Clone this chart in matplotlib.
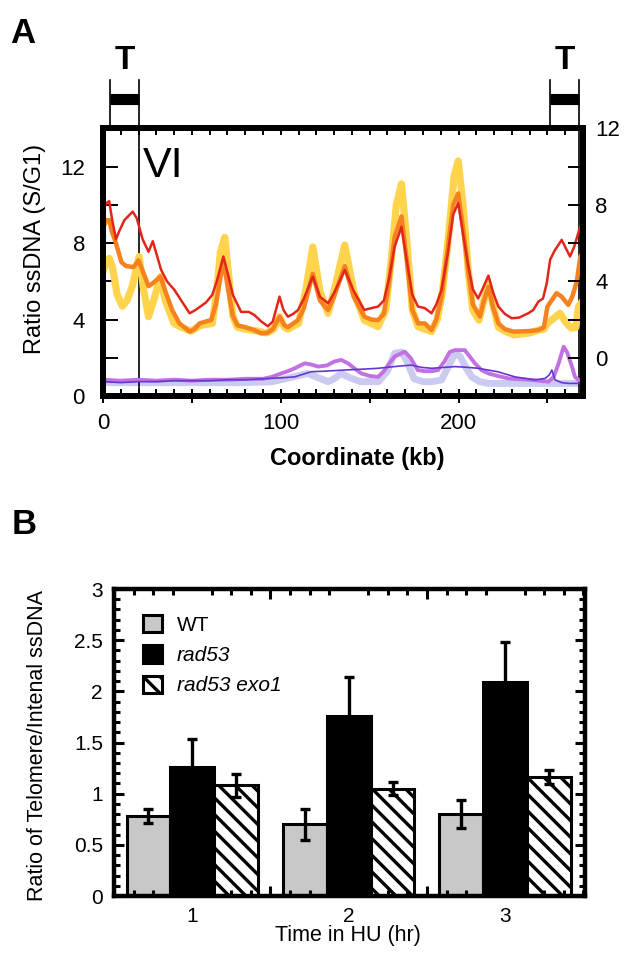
import numpy as np
import matplotlib
matplotlib.use('Agg')
import matplotlib.pyplot as plt
import matplotlib.transforms as mtransforms
from matplotlib.ticker import MultipleLocator, FixedLocator

plt.rcParams['font.family'] = ['Liberation Sans', 'DejaVu Sans']
plt.rcParams['hatch.linewidth'] = 2.4

# ---------------- panel A data (chromosome VI, kb vs ratio) ----------------
red_x = [0, 2, 3.5, 5, 7.3, 9, 12, 16.7, 19, 22.3, 25.6, 28, 32.7, 36, 40.2, 44, 48.7, 52, 55, 58,
         61.5, 64, 67.7, 70.5, 73, 77.7, 82, 85, 89, 92.8, 95.5, 99.3, 101.5, 104, 107, 109.7, 113,
         118, 122, 126.6, 130, 136, 141, 147, 151, 154.7, 158, 161, 164, 167.9, 171, 174, 177.2,
         181, 184.8, 187.5, 190.4, 194, 197, 199.8, 202.5, 205.5, 208, 211, 213.5, 216.8, 219.5,
         222.4, 226, 229.9, 234, 239.2, 242, 244.9, 247.5, 249.6, 251.5, 254, 258, 260, 262.7, 265,
         268.4, 270]
red_y = [9.7, 10.1, 10.2, 9.3, 8.2, 8.6, 9.2, 9.65, 9.3, 8.2, 7.55, 8.1, 6.6, 6.0, 5.55, 5.0, 4.33,
         4.5, 4.7, 4.9, 5.3, 6.0, 7.3, 6.3, 5.3, 4.4, 4.4, 4.25, 3.9, 3.65, 3.9, 5.2, 4.5, 4.15, 4.3,
         4.5, 5.1, 6.25, 5.2, 4.85, 5.4, 6.6, 5.5, 4.5, 4.6, 4.68, 5.0, 6.2, 7.8, 8.85, 7.0, 5.3, 4.68,
         4.6, 4.33, 4.8, 5.55, 7.5, 9.5, 10.1, 8.5, 6.8, 5.6, 5.1, 5.6, 6.3, 5.4, 4.68, 4.3, 4.07,
         4.1, 4.33, 4.5, 4.94, 5.1, 5.9, 7.13, 7.6, 8.17, 7.8, 7.3, 7.8, 8.86, 9.1]

orange_x = [0, 2, 3.5, 5, 7.3, 10.4, 13, 17.2, 20, 22.5, 25.6, 28, 32.3, 35, 38.9, 43, 48.7, 51.5,
            54.3, 60.9, 63.5, 67.7, 70.5, 73, 75.6, 80, 85, 89, 92.4, 95.5, 99.3, 102, 104, 109.7,
            113, 118, 122, 126.6, 130, 136, 141, 147, 151, 154.7, 158, 161, 164, 167.9, 171, 174,
            177.2, 181, 184.8, 187.5, 190.4, 194, 197, 199.8, 202.5, 205.5, 208, 212, 214, 216.8,
            219.5, 222.4, 226, 231, 240, 245, 248, 250, 255.1, 258, 261.7, 264, 266.5, 268.5, 270]
orange_y = [8.8, 9.2, 9.2, 8.6, 8.0, 7.0, 6.8, 6.75, 7.1, 6.5, 5.75, 5.9, 6.25, 5.5, 4.5, 3.8, 3.37,
            3.5, 3.8, 3.98, 4.8, 7.1, 5.5, 4.2, 3.7, 3.6, 3.45, 3.28, 3.3, 3.5, 4.15, 3.7, 3.6, 3.97,
            4.6, 6.4, 5.0, 4.5, 5.2, 6.8, 5.2, 4.15, 4.0, 3.97, 4.3, 6.0, 8.3, 9.4, 7.0, 4.5, 3.8,
            3.8, 3.45, 4.0, 5.2, 7.8, 10.0, 10.6, 8.8, 6.5, 4.8, 4.15, 4.9, 5.72, 4.6, 3.8, 3.5,
            3.37, 3.4, 3.45, 3.6, 4.68, 5.38, 5.2, 4.77, 5.2, 6.0, 7.3, 7.5]

yellow_x = [0, 2, 3.5, 5.3, 8, 10.9, 13.5, 16.5, 20.3, 23, 25.6, 28.5, 32.3, 35, 40, 44, 49.6, 53,
            55.3, 61.5, 64, 66, 68.5, 70.5, 73, 75.6, 80, 86.8, 92, 96, 99.3, 102, 104, 110, 114,
            118, 122, 126.6, 130, 136, 141, 147, 154.7, 159, 162, 165, 167.9, 171, 174, 177.2,
            184.8, 188, 191, 194.5, 197.5, 199.8, 202.5, 205.5, 208, 211.5, 214, 216.8, 219.5,
            222.4, 226, 231, 240, 245, 248, 250, 254, 257, 260, 263.5, 266, 267.5, 270]
yellow_y = [6.5, 7.0, 7.2, 6.75, 5.3, 4.7, 5.0, 5.75, 7.3, 5.5, 4.15, 5.0, 6.25, 5.0, 3.8, 3.6, 3.4,
            3.6, 3.7, 3.8, 5.5, 7.5, 8.3, 6.5, 4.2, 3.6, 3.5, 3.4, 3.3, 3.5, 4.15, 3.6, 3.5, 3.8,
            5.5, 7.8, 5.5, 4.33, 5.5, 7.9, 5.5, 3.97, 3.63, 4.5, 7.0, 10.0, 11.1, 8.0, 4.5, 3.63,
            3.37, 4.0, 5.5, 8.5, 11.5, 12.3, 10.0, 6.5, 4.5, 3.97, 4.9, 5.9, 4.7, 3.6, 3.4, 3.2,
            3.3, 3.45, 3.5, 3.8, 4.1, 4.33, 3.9, 3.55, 3.6, 4.68, 5.0]

orchid_x = [0, 10, 20, 30, 40, 50, 60, 70, 80, 90, 95, 100.3, 104, 107.8, 113.5, 117, 121, 126, 130,
            134, 138, 142, 145.3, 150, 154.7, 158, 161, 164, 169.7, 173, 177, 181, 185, 188.5, 192,
            195, 197.9, 203.5, 206, 209.2, 213, 216.8, 222, 228, 241, 250.6, 253.5, 256.3, 259.1,
            261, 263.8, 265.5, 267.5, 270]
orchid_y = [0.85, 0.8, 0.85, 0.8, 0.85, 0.8, 0.85, 0.85, 0.9, 0.9, 1.0, 1.18, 1.3, 1.45, 1.71, 1.65,
            1.54, 1.6, 1.8, 1.89, 1.7, 1.4, 1.18, 1.05, 1.0, 1.3, 1.7, 2.06, 2.32, 2.0, 1.36, 1.3,
            1.3, 1.36, 1.8, 2.3, 2.4, 2.4, 2.1, 1.71, 1.35, 1.18, 1.05, 0.92, 0.84, 0.75, 1.0, 1.71,
            2.58, 2.3, 1.54, 1.0, 0.84, 0.8]

lavender_x = [0, 20, 40, 60, 80, 95, 100, 107, 115, 120, 126.6, 130, 134, 139, 145, 155, 160, 164,
              168, 171, 175, 180, 184.8, 190.4, 194, 198, 201, 204, 207.4, 212, 216.8, 240, 270]
lavender_y = [0.7, 0.7, 0.7, 0.7, 0.7, 0.75, 0.85, 1.0, 1.18, 1.0, 0.75, 0.9, 1.18, 0.95, 0.75, 0.75,
              1.3, 2.23, 2.3, 1.8, 0.9, 0.75, 0.75, 0.84, 1.5, 2.23, 2.06, 1.5, 1.0, 0.75, 0.66,
              0.66, 0.66]

violet_x = [0, 10, 20, 30, 40, 50, 60, 70, 80, 90, 100, 107.8, 117, 125, 136, 145, 154.7, 165,
            173.5, 179, 185, 198, 205, 211, 222, 231.8, 243, 248.7, 251, 252.5, 254.3, 258, 262, 270]
violet_y = [0.75, 0.7, 0.75, 0.75, 0.8, 0.8, 0.8, 0.85, 0.85, 0.9, 0.95, 1.0, 1.27, 1.3, 1.36, 1.4,
            1.45, 1.55, 1.62, 1.5, 1.45, 1.54, 1.5, 1.45, 1.27, 1.0, 0.84, 0.92, 1.1, 1.36, 0.84,
            0.7, 0.66, 0.66]

# telomere regions (kb)
tel_left = (3.9, 20.5)
tel_right = (251.5, 267.5)

# ---------------- panel B data ----------------
hours = [1, 2, 3]
wt = [0.78, 0.70, 0.80]
wt_err = [0.07, 0.15, 0.14]
rad53 = [1.26, 1.76, 2.09]
rad53_err = [0.27, 0.38, 0.39]
exo1 = [1.08, 1.05, 1.16]
exo1_err = [0.11, 0.06, 0.07]

W, H = 634, 955
fig = plt.figure(figsize=(W / 100, H / 100), dpi=100)

# ======================= Panel A =======================
axA = fig.add_axes([103 / W, 1 - 396 / H, 480 / W, 267.5 / H])
axA.plot(lavender_x, lavender_y, color='#cbcbf2', lw=5.0, zorder=2)
axA.plot(orchid_x, orchid_y, color='#c271e0', lw=2.8, zorder=3)
axA.plot(violet_x, violet_y, color='#6536d6', lw=1.2, zorder=4)
axA.plot(yellow_x, yellow_y, color='#ffd44c', lw=5.2, zorder=5)
axA.plot(orange_x, orange_y, color='#f5821f', lw=3.2, zorder=6)
axA.plot(red_x, red_y, color='#e3261a', lw=1.8, zorder=7)

axA.set_xlim(0, 270)
axA.set_ylim(0, 14)
for s in axA.spines.values():
    s.set_linewidth(4.3)
axA.xaxis.set_major_locator(FixedLocator([0, 50, 100, 150, 200, 250]))
axA.xaxis.set_minor_locator(MultipleLocator(10))
axA.set_xticklabels(['0', '', '100', '', '200', ''])
axA.tick_params(axis='x', which='major', direction='inout', length=10, width=1.4,
                labelsize=16, pad=7)
axA.tick_params(axis='x', which='minor', direction='in', length=5, width=1.4)
axA.yaxis.set_major_locator(FixedLocator([0, 4, 8, 12]))
axA.yaxis.set_minor_locator(MultipleLocator(2))
axA.tick_params(axis='y', which='both', direction='in', length=11, width=1.4,
                labelsize=16, pad=13)
axA.set_ylabel('Ratio ssDNA (S/G1)', fontsize=17)
axA.yaxis.set_label_coords(-0.118, 0.55)
axA.set_xlabel('Coordinate (kb)', fontsize=17, fontweight='bold')
axA.xaxis.set_label_coords(0.53, -0.19)

topA = axA.secondary_xaxis('top')
topA.xaxis.set_major_locator(MultipleLocator(10))
topA.tick_params(direction='in', length=5, width=1.4, labeltop=False)
topA.spines['top'].set_linewidth(4.3)

rightA = axA.twinx()
rightA.set_ylim(-2, 12)
rightA.yaxis.set_major_locator(FixedLocator([0, 4, 8, 12]))
rightA.yaxis.set_minor_locator(FixedLocator([2, 6, 10]))
rightA.tick_params(axis='y', which='both', direction='in', length=11, width=1.4,
                   labelsize=16, pad=9)
for s in rightA.spines.values():
    s.set_linewidth(4.3)

# telomere brackets and chromosome-end lines
trans = mtransforms.blended_transform_factory(axA.transData, axA.transAxes)
for (a, b) in (tel_left, tel_right):
    axA.plot([a, a], [1.0, 1.18], color='black', lw=1.2, transform=trans, clip_on=False)
    axA.plot([b, b], [0.0, 1.18], color='black', lw=1.2, transform=trans, clip_on=False)
    axA.plot([a, b], [1.11, 1.11], color='black', lw=8, solid_capstyle='butt',
             transform=trans, clip_on=False)
    axA.text((a + b) / 2, 1.255, 'T', transform=trans, ha='center', va='center',
             fontsize=24, fontweight='bold')

axA.text(0.082, 0.935, 'VI', transform=axA.transAxes, fontsize=31, va='top', ha='left')
fig.text(10 / W, 1 - 17 / H, 'A', fontsize=25, fontweight='bold', va='top', ha='left')

# ======================= Panel B =======================
axB = fig.add_axes([114 / W, 1 - 896 / H, 471 / W, 307 / H])
xb = np.array(hours, dtype=float)
bw = 0.28
ekw = dict(elinewidth=2.4, capsize=3.5, capthick=2.4, ecolor='black')
axB.bar(xb - bw, wt, bw, yerr=wt_err, color='#c8c8c8', edgecolor='black', lw=2.2,
        error_kw=ekw, label='WT', zorder=1)
axB.bar(xb, rad53, bw, yerr=rad53_err, color='black', edgecolor='black', lw=2.2,
        error_kw=ekw, label='rad53', zorder=1)
axB.bar(xb + bw, exo1, bw, yerr=exo1_err, color='white', edgecolor='black', lw=2.2,
        hatch='\\\\', error_kw=ekw, label='rad53 exo1', zorder=1)

axB.set_xlim(0.5, 3.51)
axB.set_ylim(0, 3)
for s in axB.spines.values():
    s.set_linewidth(3.2)
    s.set_zorder(5)
axB.set_xticks([1, 1.5, 2, 2.5, 3])
axB.set_xticklabels(['1', '', '2', '', '3'])
axB.xaxis.set_minor_locator(MultipleLocator(0.125))
axB.set_yticks([0, 0.5, 1, 1.5, 2, 2.5, 3])
axB.set_yticklabels(['0', '0.5', '1', '1.5', '2', '2.5', '3'])
axB.yaxis.set_minor_locator(MultipleLocator(0.1))
axB.tick_params(which='both', direction='in', top=True, right=True, width=2.2)
axB.tick_params(which='major', length=7, labelsize=15, pad=8)
axB.tick_params(which='minor', length=4)
for t in axB.xaxis.get_major_ticks():
    if t.get_loc() in (1, 2, 3):
        t.tick1line.set_markersize(0)
        t.tick2line.set_markersize(0)
axB.set_axisbelow(False)
axB.set_ylabel('Ratio of Telomere/Intenal ssDNA', fontsize=15.5)
axB.yaxis.set_label_coords(-0.14, 0.49)
axB.set_xlabel('Time in HU (hr)', fontsize=15.5)
axB.xaxis.set_label_coords(0.497, -0.095)

leg = axB.legend(loc='upper left', bbox_to_anchor=(0.062, 0.915), frameon=False,
                 fontsize=15, handlelength=0.9, handleheight=0.9, handletextpad=0.7,
                 labelspacing=0.5, borderaxespad=0, borderpad=0)
leg.get_texts()[1].set_style('italic')
leg.get_texts()[2].set_style('italic')

fig.text(12 / W, 1 - 508 / H, 'B', fontsize=25, fontweight='bold', va='top', ha='left')

fig.savefig('out.png', dpi=100)
